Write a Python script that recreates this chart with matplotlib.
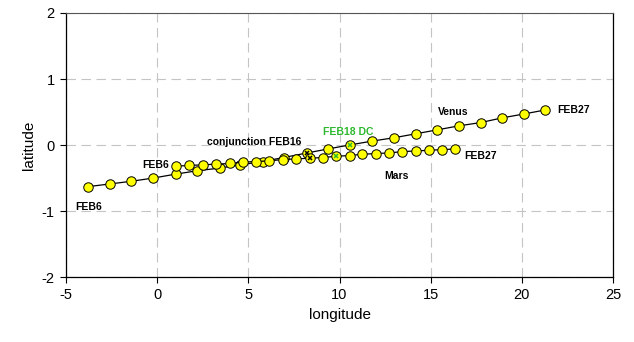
import matplotlib.pyplot as plt

plt.rcParams['font.family'] = ['Liberation Sans', 'DejaVu Sans']
plt.rcParams['axes.unicode_minus'] = False

# daily positions, FEB6 .. FEB27
venus_lon = [-3.77, -2.59, -1.43, -0.20, 1.04, 2.20, 3.42, 4.57, 5.78, 6.93, 8.23,
             9.36, 10.55, 11.80, 12.99, 14.18, 15.37, 16.54, 17.74, 18.90, 20.11, 21.26]
venus_lat = [-0.63, -0.59, -0.55, -0.50, -0.44, -0.39, -0.35, -0.30, -0.25, -0.19, -0.12,
             -0.06, 0.00, 0.06, 0.11, 0.17, 0.23, 0.29, 0.34, 0.41, 0.47, 0.53]
mars_lon = [1.04, 1.77, 2.50, 3.24, 3.97, 4.70, 5.43, 6.16, 6.89, 7.63, 8.36,
            9.09, 9.82, 10.55, 11.25, 11.98, 12.71, 13.45, 14.18, 14.91, 15.64, 16.32]
mars_lat = [-0.32, -0.31, -0.30, -0.29, -0.28, -0.26, -0.25, -0.24, -0.22, -0.21, -0.20,
            -0.19, -0.17, -0.16, -0.14, -0.13, -0.12, -0.10, -0.09, -0.08, -0.07, -0.06]

conj_day = 10   # FEB16
dc_day = 12     # FEB18

x_ticks = [-5, 0, 5, 10, 15, 20, 25]
y_ticks = [-2, -1, 0, 1, 2]

green = '#2DB82D'

fig = plt.figure(figsize=(6.34, 3.42), dpi=100)
ax = fig.add_axes([0.104, 0.190, 0.863, 0.772])

for lon, lat in [(venus_lon, venus_lat), (mars_lon, mars_lat)]:
    ax.plot(lon, lat, color='black', lw=0.9, marker='o', ms=6.8,
            mfc='#FFFF00', mec='black', mew=0.7, zorder=3)
    ax.plot(lon[conj_day], lat[conj_day], marker='x', ms=3.5, mew=1.1,
            color='black', ls='none', zorder=4)
    ax.plot(lon[dc_day], lat[dc_day], marker='x', ms=3.5, mew=1.1,
            color=green, ls='none', zorder=4)

ax.set_xlim(-5, 25)
ax.set_ylim(-2, 2)
ax.set_xticks(x_ticks)
ax.set_yticks(y_ticks)
ax.grid(True, color='#c4c4c4', lw=0.8, ls=(0, (8.5, 5)))
ax.tick_params(direction='out', length=4.5, width=0.8, labelsize=10.5, color='black')
ax.tick_params(top=False, right=False)
for side in ['left', 'bottom', 'right']:
    ax.spines[side].set_linewidth(0.9)
ax.spines['top'].set_color('#555555')
ax.set_xlabel('longitude', fontsize=11)
ax.set_ylabel('latitude', fontsize=11)

lbl = dict(fontsize=7.5, fontweight='bold', textcoords='offset pixels')
ax.annotate('FEB6', (venus_lon[0], venus_lat[0]), xytext=(0, -20), ha='center', va='center', **lbl)
ax.annotate('FEB6', (mars_lon[0], mars_lat[0]), xytext=(-7, 1), ha='right', va='center', **lbl)
ax.annotate('FEB27', (venus_lon[-1], venus_lat[-1]), xytext=(12, 0), ha='left', va='center', **lbl)
ax.annotate('FEB27', (mars_lon[-1], mars_lat[-1]), xytext=(9, -7), ha='left', va='center', **lbl)
ax.text(2.76, 0.045, 'conjunction FEB16', fontsize=7.5, fontweight='bold', va='center')
ax.text(9.07, 0.20, 'FEB18 DC', fontsize=7.5, fontweight='bold', va='center', color=green)
ax.text(15.38, 0.50, 'Venus', fontsize=7.5, fontweight='bold', va='center')
ax.text(12.47, -0.47, 'Mars', fontsize=7.5, fontweight='bold', va='center')

fig.savefig('out.png', dpi=100)
